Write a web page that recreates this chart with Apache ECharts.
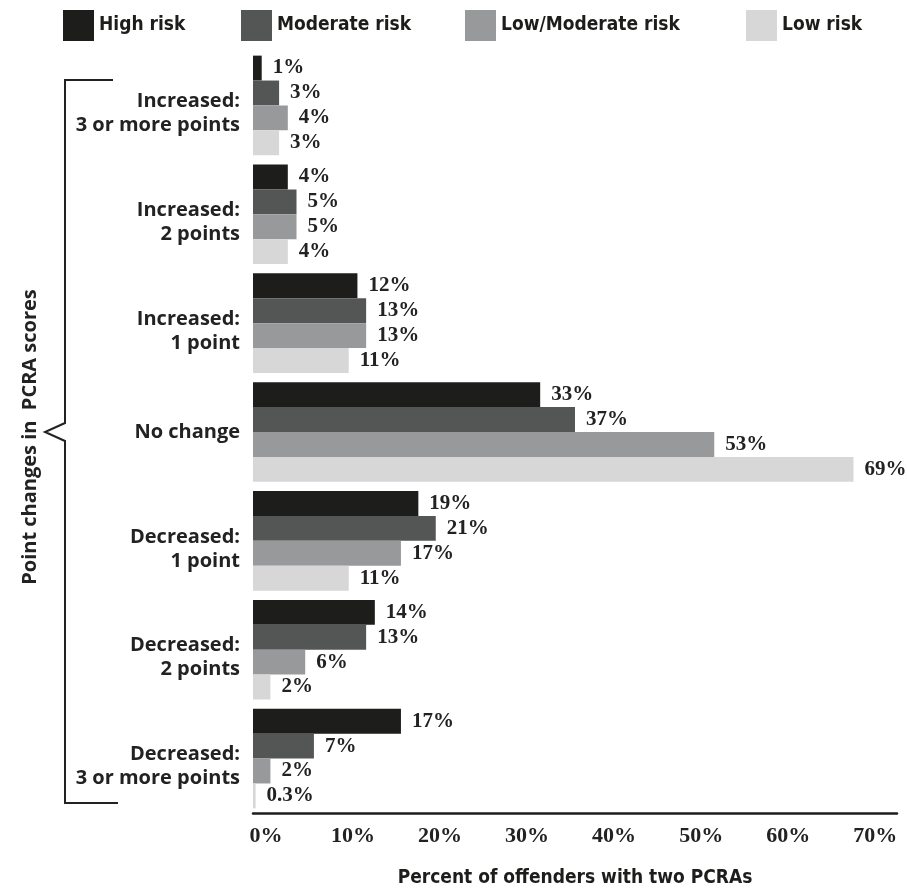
<!DOCTYPE html>
<html>
<head>
<meta charset="utf-8">
<script src="https://cdn.jsdelivr.net/npm/echarts@6/dist/echarts.min.js"></script>
<style>
  html, body { margin: 0; padding: 0; background: #ffffff; }
  #chart { width: 907px; height: 888px; }
</style>
</head>
<body>
<div id="chart"></div>
<script>
// Score-change groups, listed top to bottom
const categories = [
  'Increased:\n3 or more points',
  'Increased:\n2 points',
  'Increased:\n1 point',
  'No change',
  'Decreased:\n1 point',
  'Decreased:\n2 points',
  'Decreased:\n3 or more points'
];

const seriesNames = ['High risk', 'Moderate risk', 'Low/Moderate risk', 'Low risk'];

// Percent of offenders per risk level, in category order
const highRisk = [1, 4, 12, 33, 19, 14, 17];
const moderateRisk = [3, 5, 13, 37, 21, 13, 7];
const lowModerateRisk = [4, 5, 13, 53, 17, 6, 2];
const lowRisk = [3, 4, 11, 69, 11, 2, 0.3];

const xTicks = [0, 10, 20, 30, 40, 50, 60, 70];

const colors = ['#1d1d1b', '#545655', '#98999b', '#d6d7d6'];
const seriesData = [highRisk, moderateRisk, lowModerateRisk, lowRisk];

const serifBold = { fontFamily: 'Liberation Serif', fontWeight: 'bold', color: '#222222' };
const narrowFont = "'DejaVu Sans Condensed', sans-serif";
const labelFont = "'Open Sans', sans-serif";

const chart = echarts.init(document.getElementById('chart'), null, { renderer: 'canvas' });

const legendLefts = [58, 236, 460, 741];

const option = {
  backgroundColor: '#ffffff',
  animation: false,
  legend: seriesNames.map((name, i) => ({
    data: [name],
    left: legendLefts[i],
    top: 5,
    itemWidth: 31,
    itemHeight: 31,
    icon: 'rect',
    selectedMode: false,
    textStyle: {
      fontFamily: narrowFont,
      fontWeight: 'bold',
      fontSize: 19,
      color: '#1d1d1b'
    }
  })),
  grid: {
    left: 253,
    right: 10,
    top: 51,
    bottom: 75,
    containLabel: false,
    outerBoundsMode: 'none'
  },
  xAxis: {
    type: 'value',
    min: 0,
    max: 74,
    interval: 10,
    name: 'Percent of offenders with two PCRAs',
    nameLocation: 'middle',
    nameGap: 56,
    nameTextStyle: {
      fontFamily: narrowFont,
      fontWeight: 'bold',
      fontSize: 19,
      color: '#1d1d1b'
    },
    axisLine: { show: true, lineStyle: { color: '#1d1d1b', width: 2.5 } },
    axisTick: { show: false },
    splitLine: { show: false },
    axisLabel: {
      ...serifBold,
      fontSize: 22,
      margin: 12,
      padding: [0, 0, 0, 26],
      formatter: v => (xTicks.includes(v) ? v + '%' : '')
    }
  },
  yAxis: {
    type: 'category',
    data: categories,
    inverse: true,
    axisLine: { show: false },
    axisTick: { show: false },
    splitLine: { show: false },
    axisLabel: {
      fontFamily: labelFont,
      fontWeight: 'bold',
      fontSize: 20,
      lineHeight: 24,
      color: '#222222',
      align: 'right',
      margin: 13,
      // two-line group names sit a little below the group centre
      formatter: v => (v.indexOf('\n') >= 0 ? '{gap| }\n' + v : v),
      rich: {
        gap: { height: 16, lineHeight: 16, fontSize: 4 }
      }
    }
  },
  series: seriesNames.map((name, i) => ({
    name,
    type: 'bar',
    data: seriesData[i],
    barGap: '0%',
    barCategoryGap: '8.5%',
    itemStyle: { color: colors[i] },
    label: {
      show: true,
      position: 'right',
      distance: 11,
      ...serifBold,
      fontSize: 21,
      formatter: p => p.value + '%'
    }
  })),
  graphic: [
    {
      type: 'polyline',
      shape: {
        points: [[113, 80], [65, 80], [65, 423], [45, 432], [65, 441], [65, 803], [118, 803]]
      },
      style: { stroke: '#222222', lineWidth: 2, fill: null }
    },
    {
      type: 'text',
      x: 30,
      y: 437,
      rotation: Math.PI / 2,
      style: {
        text: 'Point changes in  PCRA scores',
        fontFamily: labelFont,
        fontWeight: 'bold',
        fontSize: 20,
        fill: '#222222',
        align: 'center',
        verticalAlign: 'middle'
      }
    }
  ]
};

chart.setOption(option);
</script>
</body>
</html>
